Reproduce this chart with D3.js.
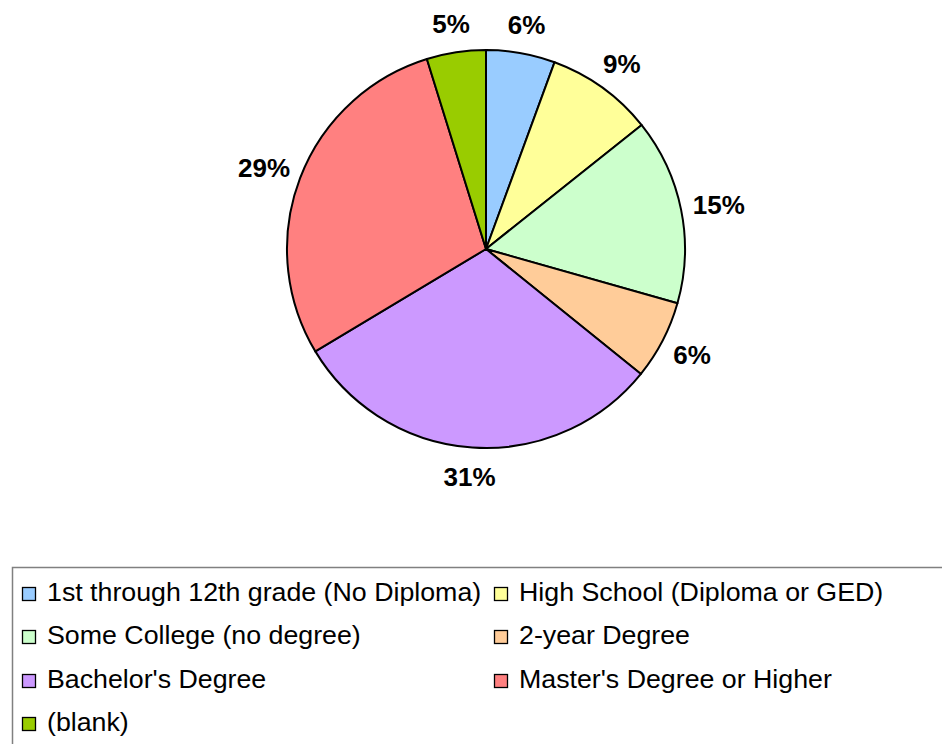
<!DOCTYPE html>
<html>
<head>
<meta charset="utf-8">
<script src="https://cdn.jsdelivr.net/npm/d3@7"></script>
<style>
  html, body { margin: 0; padding: 0; background: #fff; }
  svg { display: block; }
</style>
</head>
<body>
<svg id="chart" width="942" height="744"></svg>
<script>
const categories = [
  "1st through 12th grade (No Diploma)",
  "High School (Diploma or GED)",
  "Some College (no degree)",
  "2-year Degree",
  "Bachelor's Degree",
  "Master's Degree or Higher",
  "(blank)"
];
const values = [5.6, 8.7, 15.1, 6.4, 30.6, 28.8, 4.8];
const labels = ["6%", "9%", "15%", "6%", "31%", "29%", "5%"];
const colors = ["#99CCFF", "#FFFF99", "#CCFFCC", "#FFCC99", "#CC99FF", "#FF8080", "#99CC00"];

const svg = d3.select("#chart");
const cx = 486, cy = 249, r = 199;

const data = categories.map((c, i) => ({ name: c, value: values[i], label: labels[i], color: colors[i] }));
const pie = d3.pie().value(d => d.value).sort(null);
const arcs = pie(data);
const arc = d3.arc().innerRadius(0).outerRadius(r);

const g = svg.append("g").attr("transform", `translate(${cx},${cy})`);
g.selectAll("path").data(arcs).enter().append("path")
  .attr("d", arc)
  .attr("fill", d => d.data.color)
  .attr("stroke", "#000")
  .attr("stroke-width", 2)
  .attr("stroke-linejoin", "round");

// labels
const labelFont = 26;
const capH = 19;
arcs.forEach(a => {
  const mid = (a.startAngle + a.endAngle) / 2;
  const s = Math.sin(mid), c = Math.cos(mid);
  const t = g.append("text")
    .attr("font-family", "Liberation Sans, Arial, sans-serif")
    .attr("font-weight", "bold")
    .attr("font-size", labelFont)
    .attr("text-anchor", "middle")
    .text(a.data.label);
  const w = t.node().getComputedTextLength();
  const R = r + 19;
  const x = s * R + s * w / 2 * 0.75;
  const y = -c * (R + 1) - c * capH / 2;
  t.attr("x", x).attr("y", y + capH / 2);
});

// legend
svg.append("rect")
  .attr("x", 12.5).attr("y", 567.5)
  .attr("width", 940).attr("height", 200)
  .attr("fill", "#fff")
  .attr("stroke", "#808080")
  .attr("stroke-width", 1.5);

const colX = [22, 494];
const rowY = [594, 637, 681, 724];
data.forEach((d, i) => {
  const col = i % 2, row = Math.floor(i / 2);
  const x = colX[col], y = rowY[row];
  svg.append("rect")
    .attr("x", x + 0.5).attr("y", y - 6.5)
    .attr("width", 13).attr("height", 13)
    .attr("fill", d.color)
    .attr("stroke", "#000")
    .attr("stroke-width", 1.3);
  const t = svg.append("text")
    .attr("x", x + 25).attr("y", y + 7)
    .attr("font-family", "Liberation Sans, Arial, sans-serif")
    .attr("font-size", 25)
    .attr("fill", "#000")
    .text(d.name);
  const w = t.node().getComputedTextLength();
  t.attr("textLength", w * 1.07).attr("lengthAdjust", "spacingAndGlyphs");
});
</script>
</body>
</html>
